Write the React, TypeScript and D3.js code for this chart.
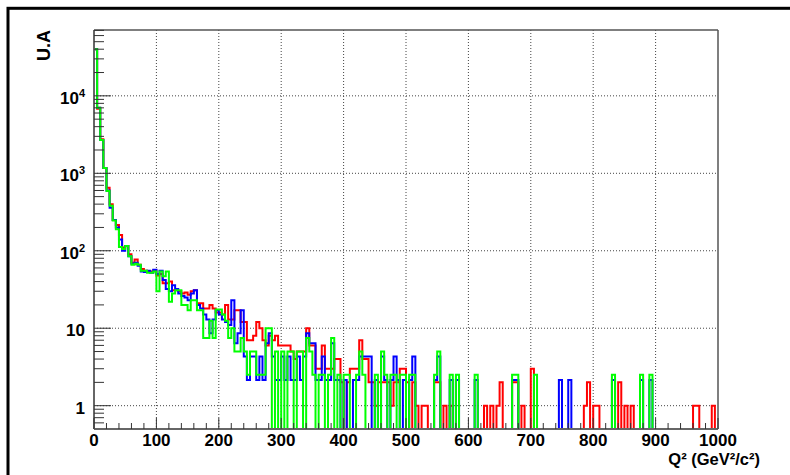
import React from 'react';
import * as d3 from 'd3';

// Q^2 histograms, 200 bins of 5 GeV^2/c^2 from 0 to 1000
const binWidth = 5;

const redCounts = [
  40000, 6800, 2750, 1170, 650, 400, 250, 215, 160, 110, 115, 90, 70, 77, 66, 58, 55, 53, 54, 56,
  48, 50, 38, 38, 40, 31, 31, 30, 28, 29, 27, 30, 31, 21, 21, 18, 18, 20, 18, 16,
  16, 15, 20, 13, 13, 17, 17, 12, 12, 7, 7, 8, 12, 10, 7, 6, 8, 7, 8, 6,
  6, 6, 6, 5, 4, 5, 5, 5, 10, 6, 6, 3, 3, 6, 3, 3, 3, 4, 4, 2,
  0, 2, 3, 3, 3, 7, 4, 4, 2, 2, 1, 2, 2, 2, 2, 1, 2, 2, 3, 3,
  2, 0, 2, 1, 0, 1, 1, 0, 0, 2, 2, 0, 1, 0, 1, 0, 0, 0, 0, 0,
  0, 0, 0, 0, 0, 1, 0, 1, 0, 1, 2, 0, 0, 0, 2, 2, 0, 1, 0, 0,
  3, 0, 0, 0, 0, 0, 0, 0, 0, 0, 0, 0, 0, 0, 0, 0, 0, 1, 2, 0,
  1, 1, 0, 0, 0, 0, 0, 0, 2, 0, 1, 0, 1, 0, 0, 0, 0, 0, 0, 0,
  0, 0, 0, 0, 0, 0, 0, 0, 0, 0, 0, 0, 1, 1, 0, 0, 0, 0, 1, 0,
];

const blueCounts = [
  40000, 7000, 2700, 1170, 600, 360, 250, 200, 140, 100, 115, 85, 68, 70, 64, 54, 53, 55, 52, 57,
  50, 55, 42, 32, 30, 36, 32, 28, 26, 25, 23, 28, 31, 20, 18, 15, 13, 8.6, 13, 17,
  15, 13, 12, 11, 23, 6.4, 8.6, 17, 4.3, 2.15, 4.3, 4.3, 2.15, 4.3, 2.15, 6.4, 8.6, 4.3, 2.15, 2.15,
  4.3, 2.15, 4.3, 2.15, 2.15, 4.3, 2.15, 4.3, 8.6, 6.4, 6.4, 2.15, 2.15, 4.3, 2.15, 2.15, 6.4, 2.15, 2.15, 0,
  2.15, 0, 0, 2.15, 2.15, 4.3, 4.3, 4.3, 4.3, 0, 2.15, 0, 4.3, 2.15, 0, 2.15, 4.3, 2.15, 0, 2.15,
  0, 2.15, 4.3, 0, 0, 0, 0, 0, 0, 2.15, 4.3, 0, 0, 0, 2.15, 0, 2.15, 0, 0, 0,
  0, 0, 2.15, 0, 0, 0, 0, 0, 0, 0, 0, 0, 0, 0, 2.15, 2.15, 0, 0, 0, 0,
  0, 0, 0, 0, 0, 0, 0, 0, 0, 2.15, 0, 0, 2.15, 0, 0, 0, 0, 0, 0, 0,
  0, 0, 0, 0, 0, 0, 2.15, 0, 0, 0, 0, 0, 0, 0, 0, 2.15, 0, 0, 2.15, 0,
  0, 0, 0, 0, 0, 0, 0, 0, 0, 0, 0, 0, 0, 0, 0, 0, 0, 0, 0, 0,
];

const greenCounts = [
  40000, 7000, 2700, 1170, 590, 380, 245, 190, 112, 105, 115, 85, 66, 68, 66, 55, 55, 52, 52, 54,
  30, 54, 47, 54, 22, 28, 31, 31, 20, 20, 17, 23, 23, 17, 17, 7.5, 7.5, 12.5, 7.5, 17.5,
  17.5, 15, 12.5, 7.5, 10, 5, 5, 7.5, 5, 2.5, 5, 5, 2.5, 2.5, 2.5, 10, 10, 0, 5, 0,
  5, 0, 5, 5, 0, 5, 5, 0, 7.5, 5, 2.5, 0, 2.5, 2.5, 0, 2.5, 7.5, 0, 2.5, 0,
  2.5, 2.5, 0, 0, 2.5, 5, 2.5, 0, 0, 0, 2.5, 0, 5, 2.5, 0, 2.5, 2.5, 0, 2.5, 2.5,
  0, 2.5, 2.5, 0, 0, 0, 0, 0, 0, 2.5, 5, 0, 0, 0, 2.5, 0, 2.5, 0, 0, 0,
  0, 0, 2.5, 0, 0, 0, 0, 0, 0, 0, 0, 0, 0, 0, 2.5, 2.5, 0, 0, 0, 0,
  0, 2.5, 0, 0, 0, 0, 0, 0, 0, 0, 0, 0, 0, 0, 0, 0, 0, 0, 0, 0,
  0, 0, 0, 0, 0, 0, 2.5, 0, 0, 0, 0, 0, 0, 0, 0, 2.5, 0, 0, 2.5, 0,
  0, 0, 0, 0, 0, 0, 0, 0, 0, 0, 0, 0, 0, 0, 0, 0, 0, 0, 0, 0,
];

const xTicks = [0, 100, 200, 300, 400, 500, 600, 700, 800, 900, 1000];
const yDecades = [1, 10, 100, 1000, 10000];
const yDecadeLabels = [['1', ''], ['10', ''], ['10', '2'], ['10', '3'], ['10', '4']];

const series = [
  { name: 'red', color: '#ff0000', counts: redCounts },
  { name: 'blue', color: '#0000ff', counts: blueCounts },
  { name: 'green', color: '#00ff00', counts: greenCounts },
];

const W = 790;
const H = 475;
const left = 94;
const right = 718;
const top = 30;
const bottom = 429;
const yMin = 0.5;
const yMax = 70800;

const font = '"Liberation Sans", Arial, Helvetica, sans-serif';

export default function App() {
  const x = d3.scaleLinear().domain([0, 1000]).range([left, right]);
  const y = d3.scaleLog().domain([yMin, yMax]).range([bottom, top]);

  const yv = (v: number) => (v > yMin ? y(v) : bottom);

  const stepPath = (counts: number[]) => {
    const pts: [number, number][] = [[x(0), bottom]];
    counts.forEach((v, i) => {
      pts.push([x(i * binWidth), yv(v)]);
      pts.push([x((i + 1) * binWidth), yv(v)]);
    });
    pts.push([x(counts.length * binWidth), bottom]);
    return d3.line()(pts) || '';
  };

  // log minor ticks
  const yMinor: number[] = [];
  for (let e = -1; e <= 4; e++) {
    for (let m = 2; m <= 9; m++) {
      const v = m * Math.pow(10, e);
      if (v > yMin && v < yMax) yMinor.push(v);
    }
  }
  const xMinor = d3.range(0, 1001, 20).filter((v) => v % 100 !== 0);

  return (
    <svg
      width={W}
      height={H}
      style={{ position: 'absolute', left: 0, top: 0, background: '#fff' }}
    >
      <rect x={0} y={0} width={W} height={H} fill="#fff" />
      {/* canvas border */}
      <rect x={8} y={8.3} width={900} height={900} fill="none" stroke="#000" strokeWidth={3} />

      {/* grid */}
      <g stroke="#444" strokeWidth={1} strokeDasharray="1 2">
        {xTicks.slice(1, -1).map((t) => (
          <line key={'gx' + t} x1={x(t)} x2={x(t)} y1={top} y2={bottom} />
        ))}
        {yDecades.map((t) => (
          <line key={'gy' + t} x1={left} x2={right} y1={y(t)} y2={y(t)} />
        ))}
      </g>

      {/* histograms */}
      {series.map((s) => (
        <path
          key={s.name}
          d={stepPath(s.counts)}
          fill="none"
          stroke={s.color}
          strokeWidth={2}
          strokeLinejoin="miter"
        />
      ))}

      {/* frame */}
      <line x1={left} x2={right} y1={top} y2={top} stroke="#555" strokeWidth={1.5} />
      <line x1={right} x2={right} y1={top} y2={bottom} stroke="#555" strokeWidth={1.5} />
      <line x1={left} x2={left} y1={top} y2={bottom} stroke="#666" strokeWidth={2} />
      <line x1={left} x2={right} y1={bottom} y2={bottom} stroke="#666" strokeWidth={2} />

      {/* ticks */}
      <g stroke="#333" strokeWidth={1}>
        {yDecades.map((t) => (
          <line key={'ty' + t} x1={left} x2={left + 17} y1={y(t)} y2={y(t)} />
        ))}
        {yMinor.map((t) => (
          <line key={'tym' + t} x1={left} x2={left + 10} y1={y(t)} y2={y(t)} />
        ))}
        {xTicks.map((t) => (
          <line key={'tx' + t} x1={x(t)} x2={x(t)} y1={bottom} y2={bottom - 11} />
        ))}
        {xMinor.map((t) => (
          <line key={'txm' + t} x1={x(t)} x2={x(t)} y1={bottom} y2={bottom - 6} />
        ))}
      </g>

      {/* tick labels */}
      <g fontFamily={font} fontWeight="bold" fontSize={17} fill="#000">
        {xTicks.map((t) => (
          <text key={'lx' + t} x={x(t)} y={446} textAnchor="middle">
            {t}
          </text>
        ))}
        {yDecades.map((t, i) => (
          <text key={'ly' + t} x={85} y={y(t) + 8} textAnchor="end">
            {yDecadeLabels[i][0]}
            {yDecadeLabels[i][1] ? (
              <tspan fontSize={11} dy={-7}>
                {yDecadeLabels[i][1]}
              </tspan>
            ) : null}
          </text>
        ))}
      </g>

      {/* axis titles */}
      <text
        transform={`translate(50, ${top}) rotate(-90)`}
        textAnchor="end"
        fontFamily={font}
        fontWeight="bold"
        fontSize={18}
      >
        U.A
      </text>
      <text x={760} y={465} textAnchor="end" fontFamily={font} fontWeight="bold" fontSize={16.5}>
        Q² (GeV²/c²)
      </text>
    </svg>
  );
}
